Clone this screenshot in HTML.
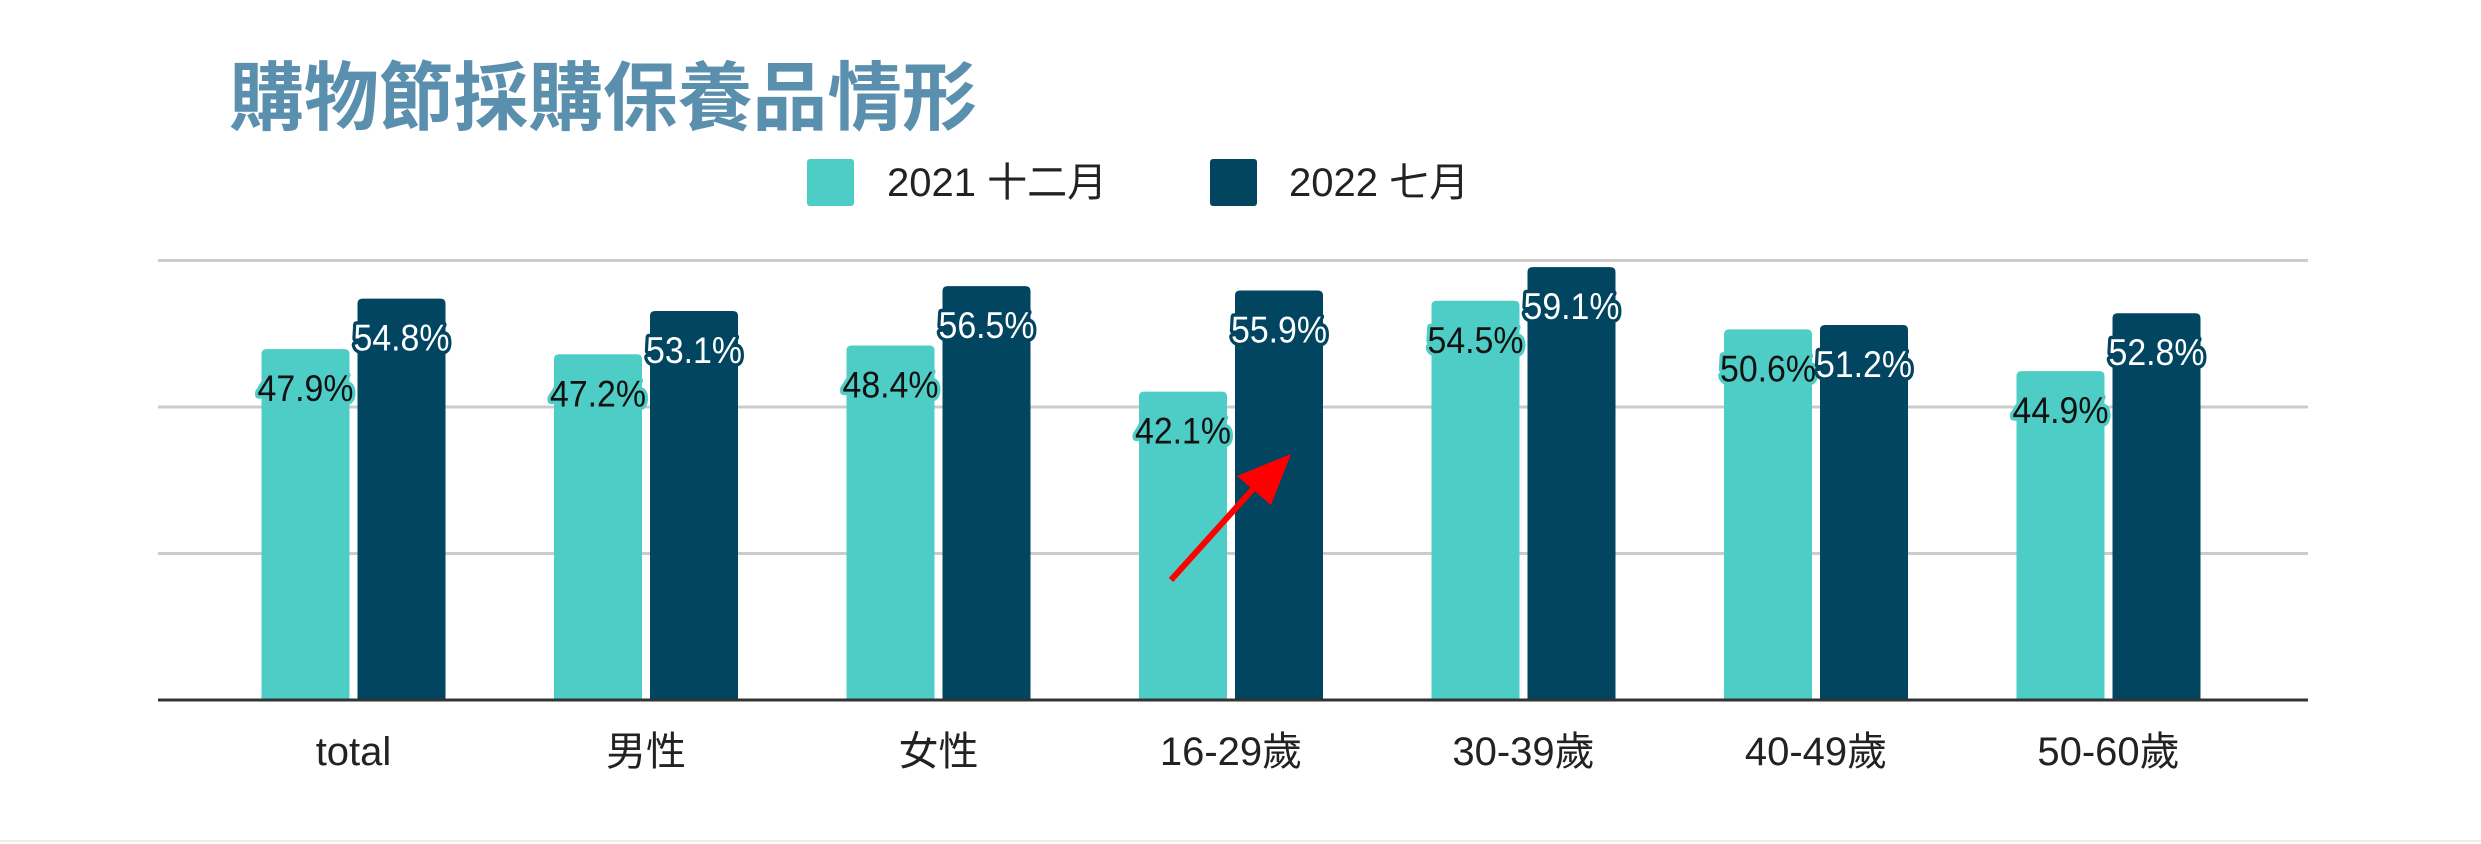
<!DOCTYPE html>
<html><head><meta charset="utf-8"><style>
html,body{margin:0;padding:0;background:#fff}
svg{display:block}
text{font-family:"Liberation Sans","Noto Sans CJK TC",sans-serif}
</style></head><body>
<svg id="chart" width="2481" height="844" viewBox="0 0 2481 844" xmlns="http://www.w3.org/2000/svg">
<text x="229" y="124" font-size="75" font-weight="bold" fill="#5a8fae" textLength="748" style="font-family:'Noto Sans CJK TC',sans-serif">購物節採購保養品情形</text>
<g>
<rect x="807" y="159" width="47" height="47" rx="3" fill="#4ecdc7"/>
<text x="887" y="196" font-size="40" fill="#222">2021 十二月</text>
<rect x="1210" y="159" width="47" height="47" rx="3" fill="#014560"/>
<text x="1289" y="196" font-size="40" fill="#222">2022 七月</text>
</g>
<g id="grid"></g>
<g id="bars"></g>
<g id="labels"></g>
<line x1="158" y1="700" x2="2308" y2="700" stroke="#333" stroke-width="3"/>
<g id="xlabels"></g>
<g>
<line x1="1171" y1="580" x2="1262" y2="479" stroke="#f00" stroke-width="6"/>
<polygon points="1291,454 1237,476 1271,505" fill="#f00"/>
</g>
<line x1="0" y1="841" x2="2481" y2="841" stroke="#eee" stroke-width="2"/>
</svg>
<script>
const categories = ["total","男性","女性","16-29歲","30-39歲","40-49歲","50-60歲"];
const series2021 = [47.9,47.2,48.4,42.1,54.5,50.6,44.9];
const series2022 = [54.8,53.1,56.5,55.9,59.1,51.2,52.8];
const gridTicks = [0,20,40,60];
const NS="http://www.w3.org/2000/svg";
const y0=700, yTop=260.5, vMax=60;
function yScale(v){return y0-(v/vMax)*(y0-yTop);}
function xCenter(i){return 353.5+i*292.5;}
const BW=88, GAP=8;
function mk(tag,attrs,parent){const e=document.createElementNS(NS,tag);for(const k in attrs)e.setAttribute(k,attrs[k]);parent.appendChild(e);return e;}
const grid=document.getElementById('grid'),bars=document.getElementById('bars'),labels=document.getElementById('labels'),xl=document.getElementById('xlabels');
gridTicks.forEach(t=>{if(t===0)return;
const l=mk('line',{x1:158,x2:2308,y1:yScale(t),y2:yScale(t),stroke:'#cccccc','stroke-width':3},grid);

});
function barPath(x,y,w,h,r){return `M${x},${y0} V${y+r} Q${x},${y} ${x+r},${y} H${x+w-r} Q${x+w},${y} ${x+w},${y+r} V${y0} Z`;}
categories.forEach((c,i)=>{
const cx=xCenter(i);
[[series2021[i],cx-GAP/2-BW,'#4ecdc7','#111','bar-2021'],[series2022[i],cx+GAP/2,'#014560','#fff','bar-2022']].forEach(([v,x,col,tc,nm])=>{
const y=yScale(v);
const b=mk('path',{d:barPath(x,y,BW,y0-y,5),fill:col},bars);


const t=mk('text',{x:x+BW/2,y:y+52,'font-size':37,'text-anchor':'middle',fill:tc,stroke:col,'stroke-width':7,'stroke-linejoin':'round','paint-order':'stroke',textLength:96,lengthAdjust:'spacingAndGlyphs'},labels);
t.textContent=v.toFixed(1)+'%';


});
const xt=mk('text',{x:cx,y:765,'font-size':40,'text-anchor':'middle',fill:'#222'},xl);
xt.textContent=c;


});
</script>
</body></html>
